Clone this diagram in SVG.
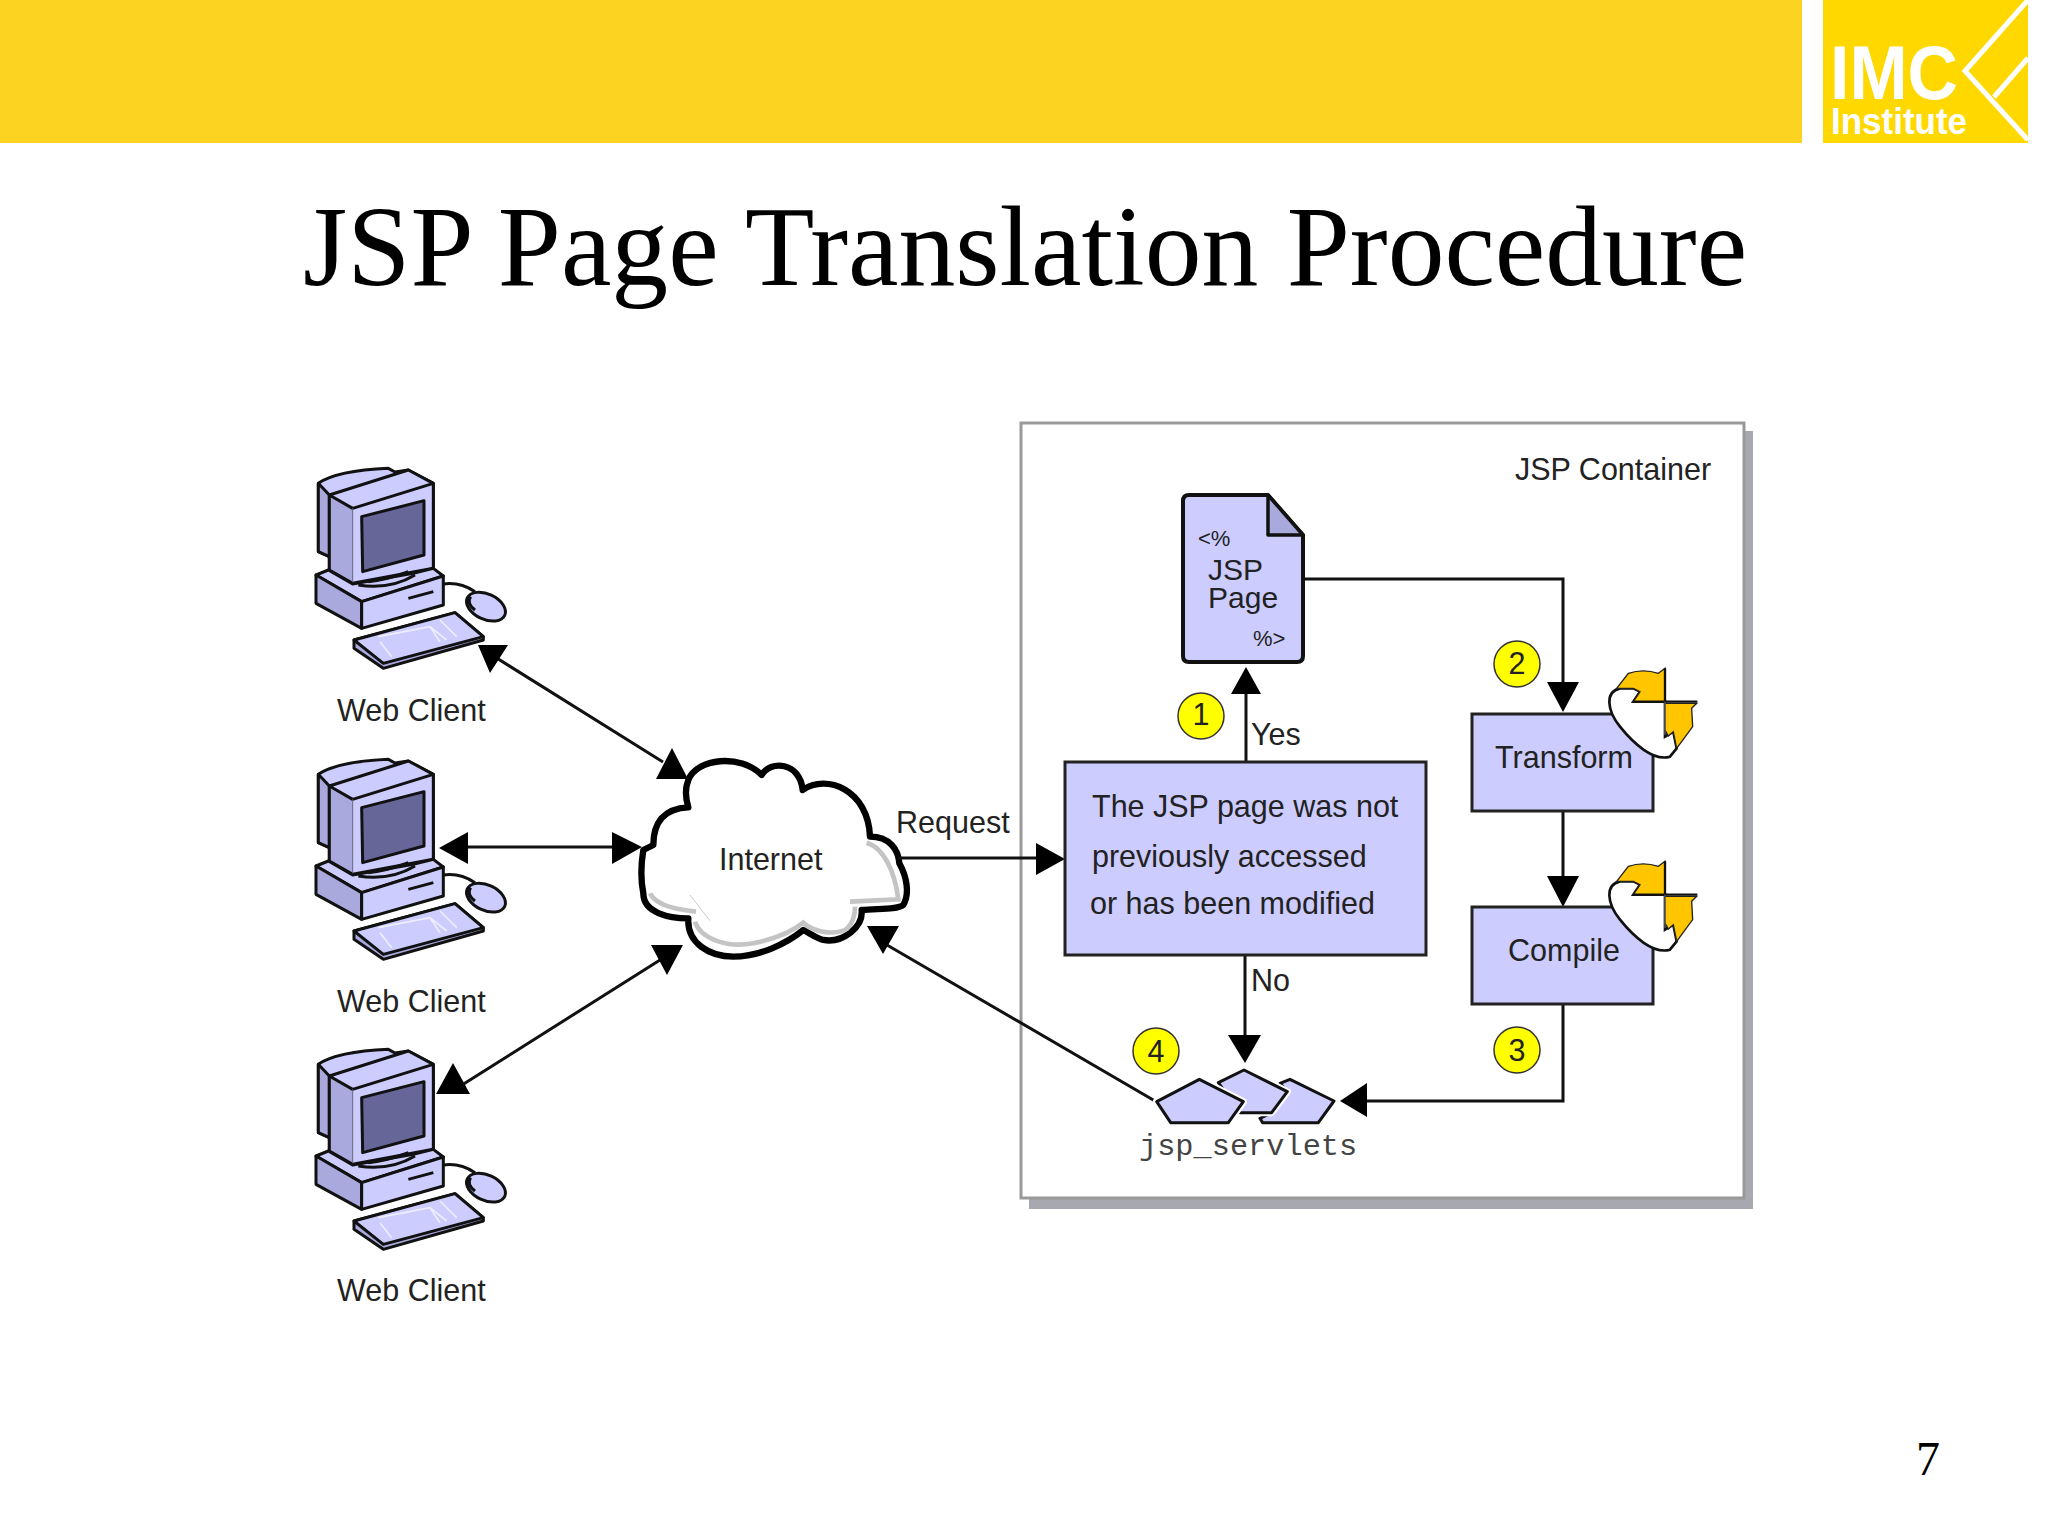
<svg xmlns="http://www.w3.org/2000/svg" xmlns:xlink="http://www.w3.org/1999/xlink" width="2048" height="1536" viewBox="0 0 2048 1536">
<style>
text{font-family:"Liberation Sans",Arial,sans-serif;font-size:30.5px;fill:#222}
.mid{text-anchor:middle}
.ink{stroke:#111;stroke-width:9;stroke-linejoin:round}
.box{fill:#ccccff;stroke:#222;stroke-width:3}
.wire{fill:none;stroke:#111;stroke-width:3}
.head{fill:#000}
.num{fill:#ffff00;stroke:#333;stroke-width:1.5}
.lt{fill:#ccccff}
.md{fill:#a9a9dd}
</style>
<defs>
<g id="pc" transform="translate(280,440) scale(.33333)">
<path class="ink lt" d="M115,130 Q170,92 325,85 L345,96 L385,90 L460,130 L460,385 L218,430 L148,390 L148,350 L115,335 Z"/>
<path class="ink md" d="M115,130 L148,165 L148,350 L115,335 Z"/>
<path class="md" d="M148,165 L218,205 L218,430 L148,390 Z"/>
<path class="lt" d="M218,205 L460,130 L460,385 L218,430 Z"/>
<path class="ink lt" d="M148,165 L385,90 L460,130 L218,205 Z"/>
<path class="ink" fill="none" d="M148,165 V390 L218,430 L460,385 V130"/>
<path fill="none" stroke="#667" stroke-width="3" d="M218,205 V430"/>
<path class="ink" fill="#666699" d="M245,230 L432,182 L432,345 L248,395 Z"/>
<path class="ink lt" d="M108,405 L145,390 L218,432 L400,400 L460,385 L490,408 L245,485 Z"/>
<path class="ink md" d="M108,405 L245,485 L245,565 L108,490 Z"/>
<path class="ink lt" d="M245,485 L490,408 L490,495 L245,565 Z"/>
<path class="ink" fill="none" d="M385,475 L460,455 M235,435 Q330,450 405,405 M265,425 Q320,420 385,395"/>
<path class="ink" fill="none" d="M490,432 Q540,425 585,455"/>
<ellipse class="ink lt" cx="618" cy="500" rx="62" ry="38" transform="rotate(25 618 500)"/>
<path class="ink" fill="none" d="M572,470 Q558,490 585,510"/>
<path class="ink" fill="#a9a9dd" d="M222,600 L525,518 L610,590 L610,600 L310,685 L222,625 Z"/>
<path class="ink lt" stroke-width="6" d="M222,600 L525,518 L610,590 L310,670 Z"/>
<path fill="none" stroke="#eef" stroke-width="5" d="M300,605 L335,650 M295,590 L450,560 L500,600 M450,560 L480,605 M480,540 L530,590"/>
</g>
<g id="spin" transform="translate(1420,620) scale(.33333)">
<path fill="#fff" stroke="#111" stroke-width="8" d="M600,205 C555,215 560,270 600,320 C640,370 700,425 750,410 L770,385 L760,335 L735,350 L735,245 L640,245 L660,215 L640,205 Z"/>
<path fill="#ffc600" stroke="#222" stroke-width="4" d="M590,205 L625,160 Q670,145 715,160 L735,145 L735,245 L640,245 L660,215 L640,205 Z"/>
<path fill="#ffc600" stroke="#222" stroke-width="4" d="M735,250 L830,250 L815,265 L818,320 L770,385 L760,335 L745,348 L735,330 Z"/>
<path fill="none" stroke="#111" stroke-width="7" d="M640,245 H832 M735,145 V245"/>
<path fill="none" stroke="#777" stroke-width="3" d="M735,245 V345"/>
</g>
</defs>
<rect width="2048" height="1536" fill="#fff"/>
<g id="header">
<rect x="0" y="0" width="1802" height="143" fill="#fdd322"/>
</g>
<g id="logo">
<rect x="1823" y="0" width="205" height="143" fill="#ffd800"/>
<path d="M2028,0 L1965,71 L2028,140 M2028,58 L1994,97" fill="none" stroke="#fff" stroke-width="5"/>
<text x="1830" y="99" font-weight="700" textLength="128" lengthAdjust="spacingAndGlyphs" style="font-size:76px;fill:#fff">IMC</text>
<text x="1831" y="134" font-weight="700" textLength="136" lengthAdjust="spacingAndGlyphs" style="font-size:36px;fill:#fff">Institute</text>
</g>
<text id="title" x="303" y="285" style="font-family:'Liberation Serif','Times New Roman',serif;font-size:113.6px;fill:#000">JSP Page Translation Procedure</text>
<text id="page-number" x="1916" y="1475" style="font-family:'Liberation Serif','Times New Roman',serif;font-size:48px;fill:#000">7</text>
<g id="jsp-container">
<rect x="1029" y="431" width="724" height="778" fill="#a8a8b0"/>
<rect x="1021" y="423" width="723" height="775" fill="#fff" stroke="#999" stroke-width="3"/>
<text x="1515" y="480">JSP Container</text>
</g>
<g id="client-1"><use xlink:href="#pc" href="#pc"/><text x="337" y="721">Web Client</text></g>
<g id="client-2"><use xlink:href="#pc" href="#pc" y="291"/><text x="337" y="1012">Web Client</text></g>
<g id="client-3"><use xlink:href="#pc" href="#pc" y="581"/><text x="337" y="1301">Web Client</text></g>
<g id="internet">
<g transform="translate(620,730) scale(.33333)">
<path fill="#fff" stroke="#000" stroke-width="19" stroke-linejoin="round" d="M205,150 C230,85 360,70 425,135 C450,90 540,95 548,180 C620,130 745,180 750,320 C810,320 835,360 838,400 C860,440 870,490 850,525 C830,540 770,535 725,540 C730,590 670,640 610,630 C590,625 570,610 550,600 C500,640 420,680 340,680 C270,680 200,640 205,565 C150,565 70,550 70,490 C60,440 65,390 70,360 L100,345 C100,280 130,235 205,232 C195,200 195,175 205,150 Z"/>
<path fill="none" stroke="#c4c4c4" stroke-width="14" d="M740,338 C795,355 825,430 835,508 L690,515 M90,490 C110,528 170,538 228,545 M225,575 C240,625 320,655 400,640 C460,628 510,610 550,578 C580,605 640,618 680,597 C700,578 705,555 705,530"/>
<path fill="none" stroke="#ccc" stroke-width="3" d="M210,495 L270,572"/>
</g>
<text x="719" y="870">Internet</text>
</g>
<g id="connectors">
<path class="wire" d="M495,657 L663,762 M468,847 H612 M462,1085 L660,960 M898,858 H1036 M1246,761 V694 M1303,579 H1563 V684 M1563,811 V877 M1245,955 V1036 M1563,1004 V1101 H1367 M1155,1101 L887,945"/>
<path class="head" d="M490,673 L478,645 H508 Z M672,748 L656,779 H688 Z M439,848 L468,832 V864 Z M642,847 L612,832 V864 Z M453,1063 L436,1094 H470 Z M667,975 L651,945 H683 Z M1065,859 L1036,843 V875 Z M1246,667 L1231,694 H1261 Z M1563,712 L1547,682 H1579 Z M1563,907 L1547,876 H1579 Z M1245,1063 L1228,1035 H1261 Z M1340,1101 L1367,1083 V1117 Z M883,954 L867,926 H899 Z"/>
</g>
<g id="jsp-page">
<path class="lt" stroke="#111" stroke-width="4" stroke-linejoin="round" d="M1189,495 H1268 L1303,535 V656 Q1303,662 1297,662 H1189 Q1183,662 1183,656 V501 Q1183,495 1189,495 Z"/>
<path class="md" stroke="#111" stroke-width="3.5" stroke-linejoin="round" d="M1268,495 L1303,535 H1268 Z"/>
<text x="1198" y="546" style="font-size:22px">&lt;%</text>
<text style="font-size:30px"><tspan x="1208" y="580">JSP</tspan><tspan x="1208" y="608">Page</tspan></text>
<text x="1253" y="646" style="font-size:22px">%&gt;</text>
</g>
<g id="decision">
<rect class="box" x="1065" y="762" width="361" height="193"/>
<text x="1092" y="817">The JSP page was not</text>
<text x="1092" y="867">previously accessed</text>
<text x="1090" y="914">or has been modified</text>
</g>
<g id="transform">
<rect class="box" x="1472" y="714" width="181" height="97"/>
<use href="#spin" xlink:href="#spin"/>
<text class="mid" x="1564" y="768">Transform</text>
</g>
<g id="compile">
<rect class="box" x="1472" y="907" width="181" height="97"/>
<use href="#spin" xlink:href="#spin" y="193"/>
<text class="mid" x="1564" y="961">Compile</text>
</g>
<g id="jsp-servlets">
<g transform="translate(1080,1020) scale(.33333)" class="ink">
<path class="lt" d="M630,178 L762,243 L715,308 L548,308 L540,295 L575,278 L622,215 L600,190 Z"/>
<path fill="#fff" stroke="#fff" stroke-width="22" d="M415,188 L492,150 L622,215 L575,278 L480,278 Z"/>
<path class="lt" d="M415,188 L492,150 L622,215 L575,278 L480,278 Z"/>
<path fill="#fff" stroke="#fff" stroke-width="22" d="M230,245 L358,178 L490,245 L445,308 L272,308 Z"/>
<path class="lt" d="M230,245 L358,178 L490,245 L445,308 L272,308 Z"/>
</g>
<text x="1139" y="1155" style="font-family:'Liberation Mono','Courier New',monospace;font-size:30.3px;fill:#444">jsp_servlets</text>
</g>
<g id="badge-1"><circle class="num" cx="1201" cy="716" r="23"/><text class="mid" x="1201" y="725">1</text></g>
<g id="badge-2"><circle class="num" cx="1517" cy="664" r="23"/><text class="mid" x="1517" y="674">2</text></g>
<g id="badge-3"><circle class="num" cx="1517" cy="1050" r="23"/><text class="mid" x="1517" y="1061">3</text></g>
<g id="badge-4"><circle class="num" cx="1156" cy="1051" r="23"/><text class="mid" x="1156" y="1062">4</text></g>
<g id="labels">
<text x="896" y="833">Request</text>
<text x="1251" y="745">Yes</text>
<text x="1251" y="991">No</text>
</g>
</svg>
